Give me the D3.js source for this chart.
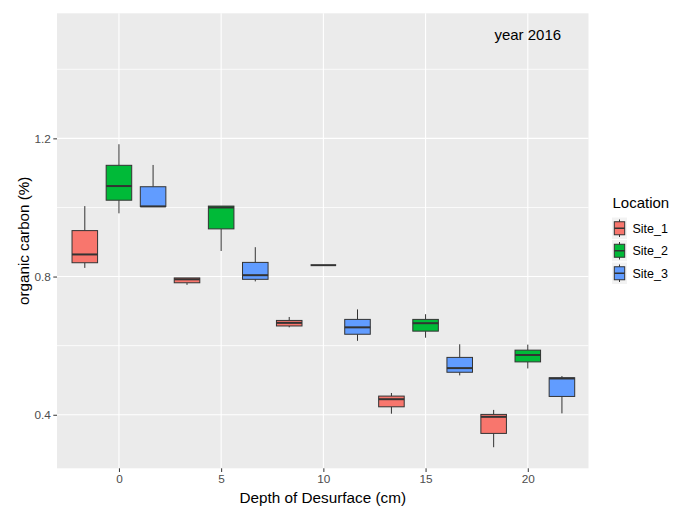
<!DOCTYPE html>
<html>
<head>
<meta charset="utf-8">
<script src="https://cdn.jsdelivr.net/npm/d3@7"></script>
<style>
  body { margin: 0; background: #fff; }
  svg { font-family: "Liberation Sans", Arial, sans-serif; }
</style>
</head>
<body>
<svg width="683" height="508"></svg>
<script>
// data: five number summaries [low, q1, median, q3, high] per depth
var depths = [0, 5, 10, 15, 20];
var sites = ["Site_1", "Site_2", "Site_3"];
var site1Stats = [
  [0.825, 0.840, 0.864, 0.933, 1.004],
  [0.776, 0.782, 0.792, 0.796, 0.796],
  [0.653, 0.657, 0.666, 0.673, 0.683],
  [0.403, 0.423, 0.445, 0.454, 0.463],
  [0.306, 0.346, 0.394, 0.401, 0.414]
];
var site2Stats = [
  [0.983, 1.021, 1.062, 1.122, 1.183],
  [0.874, 0.938, 1.000, 1.004, 1.004],
  [0.833, 0.833, 0.833, 0.833, 0.833],
  [0.623, 0.642, 0.665, 0.676, 0.691],
  [0.534, 0.553, 0.573, 0.587, 0.603]
];
var site3Stats = [
  [1.003, 1.003, 1.003, 1.060, 1.123],
  [0.786, 0.792, 0.804, 0.841, 0.885],
  [0.614, 0.633, 0.653, 0.676, 0.705],
  [0.514, 0.523, 0.535, 0.566, 0.604],
  [0.404, 0.453, 0.505, 0.507, 0.512]
];
var colors = ["#F8766D", "#00BA38", "#619CFF"];
var xTicks = [0, 5, 10, 15, 20];
var yTicks = [0.4, 0.8, 1.2];
var yMinor = [0.6, 1.0, 1.4];

var svg = d3.select("svg");

var panel = {left: 57, right: 588.5, top: 13.3, bottom: 468.3};

var x = d3.scaleLinear().domain([-3.03, 22.97]).range([panel.left, panel.right]);
var y = d3.scaleLinear().domain([0.245, 1.562]).range([panel.bottom, panel.top]);

// panel background
svg.append("rect")
.attr("x", panel.left)
.attr("y", panel.top)
.attr("width", panel.right - panel.left)
.attr("height", panel.bottom - panel.top)
.attr("fill", "#EBEBEB");

// grid
svg.selectAll("line.minor")
.data(yMinor)
.enter().append("line")
.attr("class", "minor")
.attr("x1", panel.left).attr("x2", panel.right)
.attr("y1", function(d) { return y(d); })
.attr("y2", function(d) { return y(d); })
.attr("stroke", "#fff").attr("stroke-width", 0.8);

svg.selectAll("line.ymajor")
.data(yTicks)
.enter().append("line")
.attr("class", "ymajor")
.attr("x1", panel.left).attr("x2", panel.right)
.attr("y1", function(d) { return y(d); })
.attr("y2", function(d) { return y(d); })
.attr("stroke", "#fff").attr("stroke-width", 1.1);

svg.selectAll("line.xmajor")
.data(xTicks)
.enter().append("line")
.attr("class", "xmajor")
.attr("y1", panel.top).attr("y2", panel.bottom)
.attr("x1", function(d) { return x(d); })
.attr("x2", function(d) { return x(d); })
.attr("stroke", "#fff").attr("stroke-width", 1.1);

// boxes
var dodge = [-1.67, 0, 1.67];
var boxW = 1.25;
var allStats = [site1Stats, site2Stats, site3Stats];
var boxes = [];
allStats.forEach(function(stats, si) {
  stats.forEach(function(s, di) {
    boxes.push({site: si, pos: depths[di] + dodge[si], s: s});
  });
});

var g = svg.append("g").attr("class", "boxes");
var bg = g.selectAll("g.box").data(boxes).enter().append("g").attr("class", "box");

bg.append("line")
.attr("x1", function(d) { return x(d.pos); })
.attr("x2", function(d) { return x(d.pos); })
.attr("y1", function(d) { return y(d.s[4]); })
.attr("y2", function(d) { return y(d.s[3]); })
.attr("stroke", "#333").attr("stroke-width", 1);

bg.append("line")
.attr("x1", function(d) { return x(d.pos); })
.attr("x2", function(d) { return x(d.pos); })
.attr("y1", function(d) { return y(d.s[1]); })
.attr("y2", function(d) { return y(d.s[0]); })
.attr("stroke", "#333").attr("stroke-width", 1);

bg.append("rect")
.attr("x", function(d) { return x(d.pos - boxW / 2); })
.attr("width", function(d) { return x(boxW) - x(0); })
.attr("y", function(d) { return y(d.s[3]); })
.attr("height", function(d) { return y(d.s[1]) - y(d.s[3]); })
.attr("fill", function(d) { return colors[d.site]; })
.attr("stroke", "#333").attr("stroke-width", 1);

bg.append("line")
.attr("x1", function(d) { return x(d.pos - boxW / 2); })
.attr("x2", function(d) { return x(d.pos + boxW / 2); })
.attr("y1", function(d) { return y(d.s[2]); })
.attr("y2", function(d) { return y(d.s[2]); })
.attr("stroke", "#333").attr("stroke-width", 2);

// annotation
svg.append("text")
.attr("x", x(20))
.attr("y", y(1.5))
.attr("dy", "0.35em")
.attr("text-anchor", "middle")
.attr("font-size", 15)
.attr("fill", "#000")
.text("year 2016");

// axes
var xAxis = svg.append("g")
.attr("transform", "translate(0," + panel.bottom + ")")
.call(d3.axisBottom(x).tickValues(xTicks).tickSize(3.7).tickPadding(3));
var yAxis = svg.append("g")
.attr("transform", "translate(" + panel.left + ",0)")
.call(d3.axisLeft(y).tickValues(yTicks).tickFormat(d3.format(".1f")).tickSize(3.7).tickPadding(2.5));

[xAxis, yAxis].forEach(function(a) {
  a.select(".domain").remove();
  a.selectAll(".tick line").attr("stroke", "#333");
  a.selectAll(".tick text")
  .attr("fill", "#4D4D4D")
  .attr("font-size", 11.8)
  .attr("font-family", "Liberation Sans, Arial, sans-serif");
});

svg.append("text")
.attr("x", (panel.left + panel.right) / 2)
.attr("y", 503)
.attr("text-anchor", "middle")
.attr("font-size", 15.3)
.attr("fill", "#000")
.text("Depth of Desurface (cm)");

svg.append("text")
.attr("transform", "translate(24," + ((panel.top + panel.bottom) / 2) + ") rotate(-90)")
.attr("dy", "0.35em")
.attr("text-anchor", "middle")
.attr("font-size", 15.2)
.attr("fill", "#000")
.text("organic carbon (%)");

// legend
var legend = svg.append("g").attr("transform", "translate(611.5,217)");
legend.append("text")
.attr("x", 1)
.attr("y", -9)
.attr("font-size", 15)
.attr("fill", "#000")
.text("Location");

var keyW = 16, keyH = 22.5;
var keys = legend.selectAll("g.key").data(sites).enter().append("g")
.attr("class", "key")
.attr("transform", function(d, i) { return "translate(0," + (i * keyH) + ")"; });

keys.append("rect")
.attr("width", keyW).attr("height", keyH)
.attr("fill", "#F2F2F2").attr("stroke", "#fff").attr("stroke-width", 1);

keys.append("line")
.attr("x1", keyW / 2).attr("x2", keyW / 2)
.attr("y1", 2.5).attr("y2", keyH - 2.5)
.attr("stroke", "#333").attr("stroke-width", 1);

keys.append("rect")
.attr("x", 2.8).attr("width", keyW - 5.6)
.attr("y", keyH / 2 - 6.5).attr("height", 13)
.attr("fill", function(d, i) { return colors[i]; })
.attr("stroke", "#333").attr("stroke-width", 1);

keys.append("line")
.attr("x1", 2.8).attr("x2", keyW - 2.8)
.attr("y1", keyH / 2).attr("y2", keyH / 2)
.attr("stroke", "#333").attr("stroke-width", 1.5);

keys.append("text")
.attr("x", keyW + 5)
.attr("y", keyH / 2)
.attr("dy", "0.35em")
.attr("font-size", 12.5)
.attr("fill", "#000")
.text(function(d) { return d; });
</script>
</body>
</html>
